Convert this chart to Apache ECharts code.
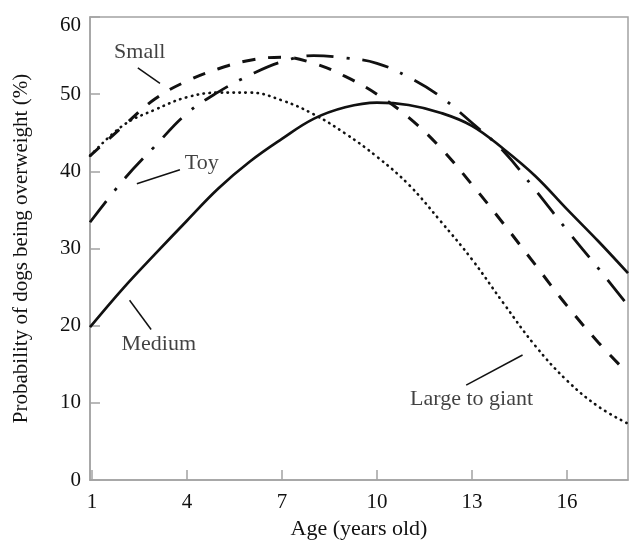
<!DOCTYPE html>
<html>
<head>
<meta charset="utf-8">
<script src="https://cdn.jsdelivr.net/npm/echarts@6/dist/echarts.min.js"></script>
<style>
html,body{margin:0;padding:0;background:#fff;}
#chart{width:631px;height:540px;}
</style>
</head>
<body>
<div id="chart"></div>
<script>
// ---- data ----
const ages = [0.94, 2, 3, 4, 5, 6, 7, 8, 9, 10, 11, 12, 13, 14, 15, 16, 17, 17.93];
const medium = [19.8, 24.9, 29.3, 33.6, 37.8, 41.3, 44.2, 46.8, 48.3, 48.9, 48.6, 47.6, 45.9, 42.9, 39.4, 35.1, 30.9, 26.8];
const toy    = [33.4, 38.9, 43.3, 47.5, 50.3, 52.5, 54.2, 55.0, 54.7, 54.0, 52.2, 49.7, 46.3, 42.6, 37.6, 32.4, 27.4, 22.6];
const small  = [42.0, 45.9, 49.4, 51.7, 53.3, 54.4, 54.8, 54.0, 52.3, 50.0, 47.0, 43.1, 38.3, 33.2, 27.9, 22.6, 17.8, 13.8];
const large  = [42.0, 46.0, 48.0, 49.6, 50.2, 50.2, 49.2, 47.4, 44.9, 41.9, 38.3, 33.6, 28.6, 22.9, 17.4, 12.9, 9.5, 7.3];

const xTicks = [1, 4, 7, 10, 13, 16];
const yTicks = [0, 10, 20, 30, 40, 50, 60];

const labelNames = ['Small', 'Toy', 'Medium', 'Large to giant'];
const labelX = [2.51, 4.47, 3.11, 12.99];
const labelY = [55.4, 41.1, 17.6, 10.5];
const leaderStart = [[2.45, 53.4], [2.42, 38.4], [2.19, 23.3], [12.82, 12.3]];
const leaderEnd   = [[3.15, 51.4], [3.78, 40.2], [2.87, 19.5], [14.6, 16.2]];

const xTitle = 'Age (years old)';
const yTitle = 'Probability of dogs being overweight (%)';

// ---- build ----
const pair = arr => ages.map((a, i) => [a, arr[i]]);
const font = 'Liberation Serif';
const ink = '#111';
const axisGray = '#a3a3a3';

const chart = echarts.init(document.getElementById('chart'), null, {renderer: 'canvas'});
chart.setOption({
  animation: false,
  backgroundColor: '#fff',
  grid: {left: 90, right: 3, top: 17, bottom: 60, containLabel: false, outerBoundsMode: 'none',
         show: true, borderColor: axisGray, borderWidth: 1.5, backgroundColor: 'transparent'},
  xAxis: {
    type: 'value', min: 0.94, max: 17.93,
    axisLine: {show: true, lineStyle: {color: axisGray, width: 1.5}},
    axisTick: {show: true, inside: true, length: 10, customValues: xTicks, lineStyle: {color: axisGray, width: 1.5}},
    axisLabel: {customValues: xTicks, color: ink, fontFamily: font, fontSize: 21, margin: 12},
    splitLine: {show: false},
    name: xTitle, nameLocation: 'middle', nameGap: 38,
    nameTextStyle: {color: ink, fontFamily: font, fontSize: 22}
  },
  yAxis: {
    type: 'value', min: 0, max: 60, interval: 10,
    axisLine: {show: true, lineStyle: {color: axisGray, width: 1.5}},
    axisTick: {show: true, inside: true, length: 10, lineStyle: {color: axisGray, width: 1.5}},
    axisLabel: {color: ink, fontFamily: font, fontSize: 21, margin: 9,
      formatter: v => v === yTicks[yTicks.length - 1] ? '{top|' + v + '}' : String(v),
      rich: {top: {color: ink, fontFamily: font, fontSize: 21, padding: [16, 0, 0, 0]}}},
    splitLine: {show: false},
    name: yTitle, nameLocation: 'middle', nameGap: 58,
    nameTextStyle: {color: ink, fontFamily: font, fontSize: 21}
  },
  series: [
    {name: 'Medium', type: 'line', data: pair(medium), smooth: 0.4, showSymbol: false,
     lineStyle: {color: ink, width: 2.7}},
    {name: 'Toy', type: 'line', data: pair(toy), smooth: 0.4, showSymbol: false,
     lineStyle: {color: ink, width: 2.8, type: [27, 13, 3, 13], cap: 'butt'}},
    {name: 'Small', type: 'line', data: pair(small), smooth: 0.4, showSymbol: false,
     lineStyle: {color: ink, width: 3, type: [13, 13], cap: 'butt'}},
    {name: 'Large to giant', type: 'line', data: pair(large), smooth: 0.4, showSymbol: false,
     lineStyle: {color: ink, width: 2.6, type: [0.5, 5.5], cap: 'round'}},
    {type: 'lines', coordinateSystem: 'cartesian2d', silent: true,
     lineStyle: {color: ink, width: 1.5, opacity: 1},
     data: leaderStart.map((s, i) => ({coords: [s, leaderEnd[i]]}))},
    {type: 'scatter', symbolSize: 0, silent: true,
     data: labelNames.map((n, i) => [labelX[i], labelY[i], n]),
     label: {show: true, position: 'inside', formatter: p => p.value[2],
             color: ink, fontFamily: font, fontSize: 22}}
  ]
});
</script>
</body>
</html>
